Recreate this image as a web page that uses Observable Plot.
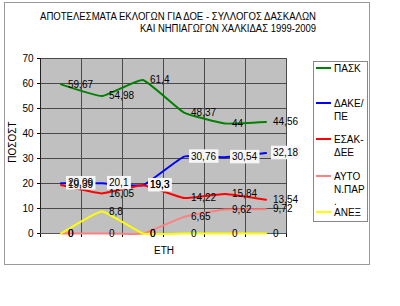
<!DOCTYPE html>
<html><head><meta charset="utf-8">
<script src="https://cdn.jsdelivr.net/npm/d3@7"></script>
<script src="https://cdn.jsdelivr.net/npm/@observablehq/plot@0.6"></script>
<style>body{margin:0;background:#fff}</style>
</head><body><div id="chart"></div>
<script>
const years = ["1999","2001","2003","2005","2007","2009"];
const seriesNames = ["ΠΑΣΚ","ΔΑΚΕ/ΠΕ","ΕΣΑΚ-ΔΕΕ","ΑΥΤΟΝ.ΠΑΡ.","ΑΝΕΞ"];
const legendLines = [["ΠΑΣΚ"],["ΔΑΚΕ/","ΠΕ"],["ΕΣΑΚ-","ΔΕΕ"],["ΑΥΤΟ","Ν.ΠΑΡ","."],["ΑΝΕΞ"]];
const pask  = [59.67, 54.98, 61.4, 48.37, 44, 44.56];
const dake  = [20.09, 20.1, 19.3, 30.76, 30.54, 32.18];
const esak  = [19.39, 16.05, 19.3, 14.22, 15.84, 13.54];
const ayton = [0, 0, 0, 6.65, 9.62, 9.72];
const anex  = [0, 8.8, 0, 0, 0, 0];
const colors = ["#008000","#0000ff","#ff0000","#ff8080","#ffff00"];
const yTicks = [0,10,20,30,40,50,60,70];
const titleLines = ["ΑΠΟΤΕΛΕΣΜΑΤΑ ΕΚΛΟΓΩΝ ΓΙΑ ΔΟΕ - ΣΥΛΛΟΓΟΣ ΔΑΣΚΑΛΩΝ","ΚΑΙ ΝΗΠΙΑΓΩΓΩΝ ΧΑΛΚΙΔΑΣ 1999-2009"];
const yLabel = "ΠΟΣΟΣΤ";
const xLabel = "ΕΤΗ";

const allSeries = [pask, dake, esak, ayton, anex];
const rows = allSeries.map((vals, s) => vals.map((v, i) => ({i, year: years[i], v, s: seriesNames[s]})));
const bounds = d3.range(years.length + 1).map(k => k - 0.5);
const fmt = v => String(v).replace(".", ",");

const marks = [
  Plot.frame({fill: "#c0c0c0", stroke: "none"}),
  Plot.ruleY(yTicks.slice(1), {stroke: "#4a4a4a", strokeWidth: 1}),
  Plot.ruleX(bounds.slice(1), {stroke: "#4a4a4a", strokeWidth: 1}),
  Plot.ruleX([bounds[0]], {stroke: "#222"}),
  Plot.ruleY([0], {stroke: "#555"})
];
rows.forEach((r, s) => marks.push(Plot.line(r, {x: "i", y: "v", stroke: colors[s], strokeWidth: 2, curve: "cardinal", tension: 0.65})));
rows.forEach((r, s) => marks.push(Plot.text(r, {x: "i", y: "v", text: d => fmt(d.v), textAnchor: "start", dx: 7, fill: "#000", fontSize: 10})));

const chart = Plot.plot({
  width: 400, height: 306,
  marginLeft: 40, marginRight: 114, marginTop: 58, marginBottom: 73,
  style: {background: "white", fontFamily: "Liberation Sans, Arial, sans-serif", fontSize: "10px", color: "#000"},
  x: {type: "linear", domain: [bounds[0], bounds[bounds.length - 1]], ticks: bounds, tickFormat: () => "", tickSize: 4, label: null},
  y: {domain: [0, 70], ticks: yTicks, tickSize: 3, tickPadding: 4, label: null},
  marks
});
document.getElementById("chart").appendChild(chart);

const svg = d3.select(chart);
// white boxes behind the ΔΑΚΕ/ΠΕ labels
const textGroups = svg.selectAll('g[aria-label="text"]').nodes();
const blueGroup = textGroups[1];
if (blueGroup) {
  d3.select(blueGroup).selectAll("text").each(function() {
    const b = this.getBBox();
    const r = document.createElementNS("http://www.w3.org/2000/svg", "rect");
    r.setAttribute("x", b.x - 2); r.setAttribute("y", b.y - 1.5);
    r.setAttribute("width", b.width + 4); r.setAttribute("height", b.height + 2.5);
    r.setAttribute("fill", "#f6f6f6");
    const t = this.getAttribute("transform"); if (t) r.setAttribute("transform", t);
    this.parentNode.insertBefore(r, this);
  });
}

const extra = svg.append("g").attr("text-anchor", "start").attr("font-size", 10).attr("fill", "#000");
// outer frame
extra.append("rect").attr("x", 4.5).attr("y", 2.5).attr("width", 365).attr("height", 262)
  .attr("fill", "none").attr("stroke", "#999");
// title
const tl = [[40, 20, 276], [140, 32, 176]];
titleLines.forEach((t, k) => {
  extra.append("text").attr("x", tl[k][0]).attr("y", tl[k][1]).attr("textLength", tl[k][2])
    .attr("lengthAdjust", "spacingAndGlyphs").attr("text-anchor", "start").text(t);
});
// axis labels
extra.append("text").attr("transform", "translate(16,142) rotate(-90)").attr("text-anchor", "middle").text(yLabel);
extra.append("text").attr("x", 164).attr("y", 254).attr("text-anchor", "middle").text(xLabel);
// legend
extra.append("rect").attr("x", 313.5).attr("y", 61.5).attr("width", 54).attr("height", 160)
  .attr("fill", "white").attr("stroke", "#888");
const legY = [68, 103, 139, 176, 212];
legendLines.forEach((lines, s) => {
  extra.append("line").attr("x1", 316).attr("x2", 331).attr("y1", legY[s]).attr("y2", legY[s])
    .attr("stroke", colors[s]).attr("stroke-width", 2);
  lines.forEach((ln, j) => {
    extra.append("text").attr("x", 334).attr("y", legY[s] + 4 + j * 12.5)
      .attr("text-anchor", "start").text(ln);
  });
});
</script>
</body></html>
